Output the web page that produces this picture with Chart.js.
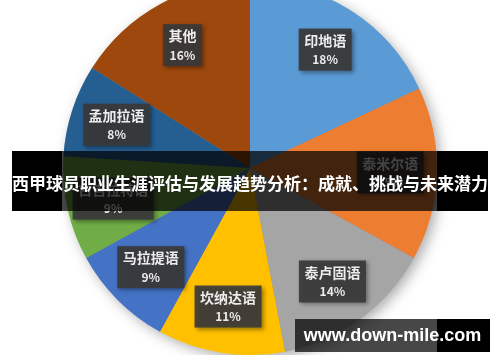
<!DOCTYPE html>
<html>
<head>
<meta charset="utf-8">
<script src="https://cdn.jsdelivr.net/npm/chart.js@4/dist/chart.umd.min.js"></script>
<style>
  body { margin: 0; width: 500px; height: 362px; overflow: hidden; background: #fff; position: relative; }
  #wrap { position: absolute; left: 0; top: -19px; width: 500px; height: 374px; }
  .strip { position: absolute; }
  .txt { position: absolute; color: #fff; font-weight: bold; white-space: nowrap; }
</style>
</head>
<body>
<div id="wrap"><canvas id="pieChart"></canvas></div>

<!-- title banner -->
<div class="strip" style="left:12px;top:151px;width:50px;height:60px;background:#000"></div>
<div class="strip" style="left:62px;top:151px;width:375px;height:60px;background:rgba(0,0,0,0.72)"></div>
<div class="strip" style="left:437px;top:151px;width:51px;height:60px;background:#000"></div>
<div class="txt" id="banner" style="left:12px;top:171px;width:476px;text-align:center;font:bold 17px 'Noto Sans CJK SC';line-height:24px"></div>

<!-- watermark -->
<div class="strip" style="left:295px;top:319px;width:142px;height:33px;background:rgba(0,0,0,0.72)"></div>
<div class="strip" style="left:437px;top:319px;width:53px;height:33px;background:#000"></div>
<div class="txt" id="mark" style="left:295px;top:323px;width:195px;text-align:center;font:bold 18px 'Liberation Sans';line-height:24px"></div>

<script>
// Data
const languages = ['印地语', '泰米尔语', '泰卢固语', '坎纳达语', '马拉提语', '古吉拉特语', '孟加拉语', '其他'];
const shares = [18, 15, 14, 11, 9, 9, 8, 16];
const sliceColors = ['#5B9BD5', '#ED7D31', '#A5A5A5', '#FFC000', '#4472C4', '#70AD47', '#255E91', '#9E480E'];
const titleText = '西甲球员职业生涯评估与发展趋势分析：成就、挑战与未来潜力';
const watermarkText = 'www.down-mile.com';

document.getElementById('banner').textContent = titleText;
document.getElementById('mark').textContent = watermarkText;

// soft shadow under the whole pie
const pieShadow = {
    id: 'pieShadow',
    beforeDatasetsDraw(chart) {
        const arc = chart.getDatasetMeta(0).data[0];
        if (!arc) return;
        const ctx = chart.ctx;
        ctx.save();
        ctx.shadowColor = 'rgba(0,0,0,0.35)';
        ctx.shadowBlur = 14;
        ctx.shadowOffsetX = 4;
        ctx.shadowOffsetY = 4;
        ctx.fillStyle = '#888';
        ctx.beginPath();
        ctx.arc(arc.x, arc.y, arc.outerRadius - 1, 0, Math.PI * 2);
        ctx.fill();
        ctx.restore();
    }
};

// dark boxes with name and percentage
const labelBoxes = {
    id: 'labelBoxes',
    afterDatasetsDraw(chart) {
        const ctx = chart.ctx;
        const meta = chart.getDatasetMeta(0);
        meta.data.forEach((arc, i) => {
            const mid = (arc.startAngle + arc.endAngle) / 2;
            const r = arc.outerRadius * 0.75;
            const cx = arc.x + Math.cos(mid) * r;
            const cy = arc.y + Math.sin(mid) * r;
            const name = chart.data.labels[i];
            const pct = chart.data.datasets[0].data[i] + '%';
            ctx.save();
            ctx.font = "bold 14px 'Noto Sans CJK SC'";
            const w = ctx.measureText(name).width + 11;
            const h = 42;
            ctx.shadowColor = 'rgba(0,0,0,0.4)';
            ctx.shadowBlur = 4;
            ctx.shadowOffsetX = 2;
            ctx.shadowOffsetY = 2;
            ctx.fillStyle = 'rgba(58,58,58,0.92)';
            ctx.fillRect(cx - w / 2, cy - h / 2, w, h);
            ctx.shadowColor = 'transparent';
            ctx.fillStyle = '#ececec';
            ctx.textAlign = 'center';
            ctx.textBaseline = 'middle';
            ctx.fillText(name, cx, cy - 9);
            ctx.font = "bold 12px 'Noto Sans CJK SC'";
            ctx.fillText(pct, cx, cy + 10);
            ctx.restore();
        });
    }
};

const ctx = document.getElementById('pieChart').getContext('2d');
new Chart(ctx, {
    type: 'pie',
    data: {
        labels: languages,
        datasets: [{
            data: shares,
            backgroundColor: sliceColors,
            borderWidth: 0
        }]
    },
    options: {
        responsive: true,
        maintainAspectRatio: false,
        animation: false,
        layout: { padding: 0 },
        plugins: {
            legend: { display: false },
            tooltip: { enabled: false }
        }
    },
    plugins: [pieShadow, labelBoxes]
});
</script>
</body>
</html>
